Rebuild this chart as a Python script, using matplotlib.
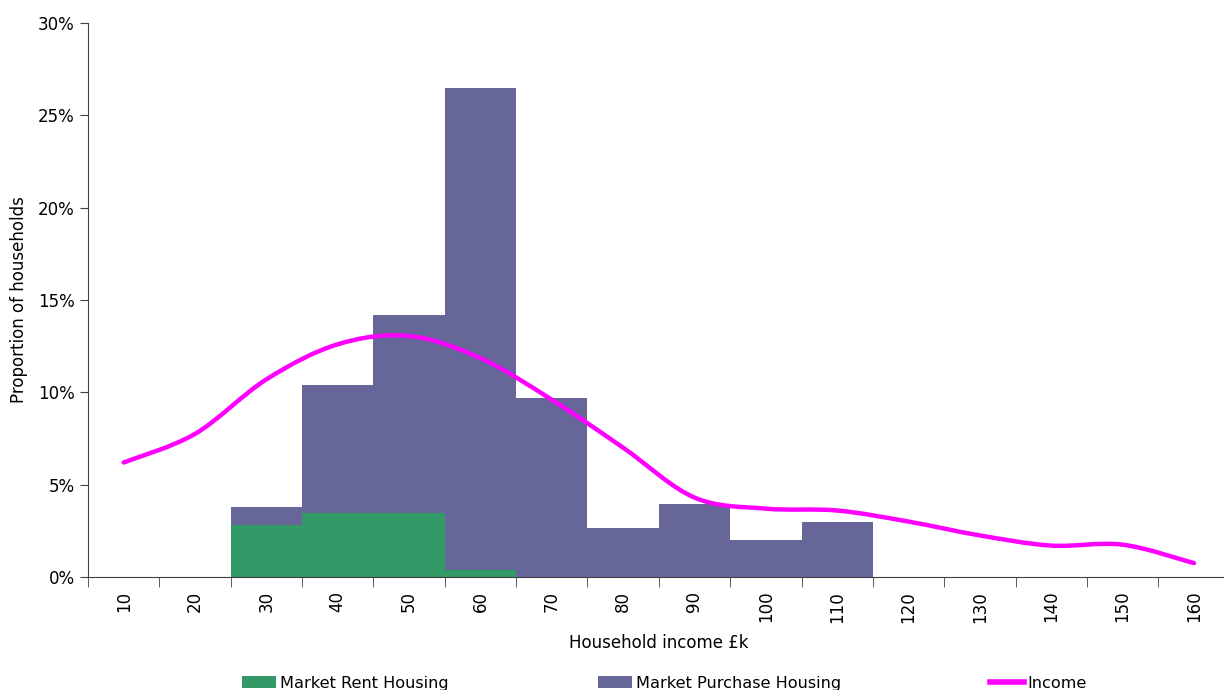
import numpy as np
import matplotlib.pyplot as plt
from matplotlib.path import Path
from matplotlib.patches import PathPatch, Patch
from matplotlib.lines import Line2D
from matplotlib.ticker import PercentFormatter

# income bands (£k) and share of households in each band (%)
income_bands = [10, 20, 30, 40, 50, 60, 70, 80, 90, 100, 110, 120, 130, 140, 150, 160]
market_purchase = [0, 0, 3.8, 10.4, 14.2, 26.5, 9.7, 2.65, 3.95, 2.0, 3.0, 0, 0, 0, 0, 0]
market_rent = [0, 0, 2.8, 3.47, 3.47, 0.38, 0, 0, 0, 0, 0, 0, 0, 0, 0, 0]
income = [6.2, 7.75, 10.7, 12.6, 13.05, 11.85, 9.6, 7.0, 4.3, 3.7, 3.6, 3.0, 2.25, 1.7, 1.75, 0.75]

purple = '#666699'
green = '#339966'
magenta = '#ff00ff'

plt.rcParams['font.family'] = ['DejaVu Sans']
plt.rcParams['font.size'] = 12

fig = plt.figure(figsize=(12.24, 6.9), dpi=100)
ax = fig.add_axes([0.0719, 0.1638, 0.9327, 0.8029])

x = np.arange(len(income_bands))
ax.bar(x, market_purchase, width=1.0, color=purple, edgecolor='none', zorder=2)
ax.bar(x, market_rent, width=1.0, color=green, edgecolor='none', zorder=3)


def smooth_path(xs, ys):
    # cubic bezier through every point, same style as a spreadsheet "smoothed line"
    pts = np.column_stack([xs, ys]).astype(float)
    ext = np.vstack([pts[0], pts, pts[-1]])
    verts = [pts[0]]
    codes = [Path.MOVETO]
    for i in range(len(pts) - 1):
        p0, p1, p2, p3 = ext[i], ext[i + 1], ext[i + 2], ext[i + 3]
        c1 = p1 + (p2 - p0) / 6.0
        c2 = p2 - (p3 - p1) / 6.0
        verts += [c1, c2, p2]
        codes += [Path.CURVE4] * 3
    return Path(verts, codes)


line = PathPatch(smooth_path(x, income), facecolor='none', edgecolor=magenta,
                 lw=3.2, capstyle='round', joinstyle='round', zorder=4)
ax.add_patch(line)

ax.set_xlim(-0.5, len(income_bands) - 0.5)
ax.set_ylim(0, 30)
ax.yaxis.set_major_formatter(PercentFormatter(decimals=0))
ax.set_yticks(range(0, 31, 5))

# category labels in the middle, tick marks on the band edges
ax.set_xticks(x)
ax.set_xticklabels([str(b) for b in income_bands], rotation=90)
ax.set_xticks(np.arange(-0.5, len(income_bands)), minor=True)
ax.tick_params(axis='x', which='major', length=0, pad=10)
ax.tick_params(axis='x', which='minor', length=7, color='#404040', direction='out')
ax.tick_params(axis='y', length=6, color='#404040', direction='out')

for side in ['top', 'right']:
    ax.spines[side].set_visible(False)
for side in ['left', 'bottom']:
    ax.spines[side].set_color('#404040')
    ax.spines[side].set_zorder(5)

ax.set_xlabel('Household income £k', labelpad=8)
ax.set_ylabel('Proportion of households', labelpad=7)

handles = [
    Patch(facecolor=green, edgecolor='none'),
    Patch(facecolor=purple, edgecolor='none'),
    Line2D([0], [0], color=magenta, lw=4),
]
fig.legend(handles, ['Market Rent Housing', 'Market Purchase Housing', 'Income'],
           loc='center', bbox_to_anchor=(0.543, 0.01), ncol=3, frameon=False,
           fontsize=11.6, handlelength=2.1, handletextpad=0.25, columnspacing=9.25)

fig.savefig('out.png', dpi=100)
